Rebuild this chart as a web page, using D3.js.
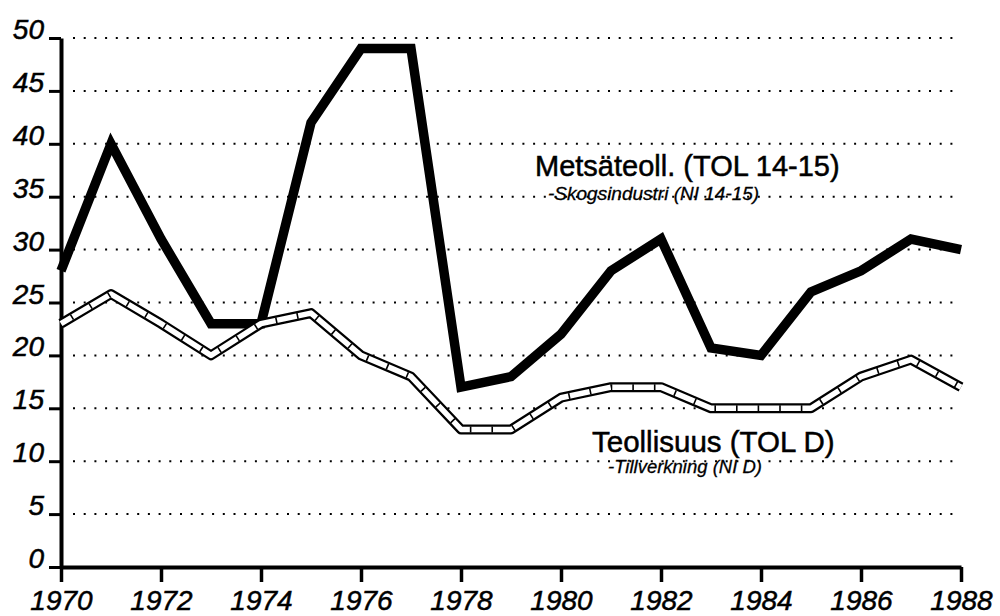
<!DOCTYPE html>
<html>
<head>
<meta charset="utf-8">
<script src="https://cdn.jsdelivr.net/npm/d3@7"></script>
<style>
  body { margin: 0; background: #fff; }
  svg { display: block; font-family: "Liberation Sans", Arial, Helvetica, sans-serif; }
  text { stroke: #000; stroke-width: 0.5px; }
</style>
</head>
<body>
<svg width="1000" height="616"></svg>
<script>
let years = d3.range(1970, 1989)
let metsa = [28, 40, 31, 23, 23, 42, 49, 49, 17, 18, 22, 28, 31, 20.7, 20, 26, 28, 31, 30]
let teoll = [23, 25.8, 23, 20, 23, 24, 20, 18, 13, 13, 16, 17, 17, 15, 15, 15, 18, 19.6, 17]
let yTicks = [0, 5, 10, 15, 20, 25, 30, 35, 40, 45, 50]
let xTicks = [1970, 1972, 1974, 1976, 1978, 1980, 1982, 1984, 1986, 1988]
let metsaName = ['Metsäteoll. (TOL 14-15)', '-Skogsindustri (NI 14-15)']
let teollName = ['Teollisuus (TOL D)', '-Tillverkning (NI D)']

let svg = d3.select('svg')

let x = d3.scaleLinear().domain([1970, 1988]).range([61, 961])
let y = d3.scaleLinear().domain([0, 50]).range([567, 38])

// dotted grid
svg.append('g')
   .selectAll('line')
   .data(yTicks.filter(d => d > 0))
   .enter()
   .append('line')
   .attr('x1', 73)
   .attr('x2', x(1988))
   .attr('y1', d => y(d))
   .attr('y2', d => y(d))
   .attr('stroke', '#000')
   .attr('stroke-width', 2)
   .attr('stroke-dasharray', '2,8.7')

// axes
let yAxis = d3.axisLeft(y).tickValues(yTicks).tickSize(12).tickSizeOuter(0).tickPadding(6)
let xAxis = d3.axisBottom(x).tickValues(xTicks).tickSize(15).tickSizeOuter(0).tickFormat(d3.format('d'))

let gy = svg.append('g').attr('transform', 'translate(61,0)').call(yAxis)
let gx = svg.append('g').attr('transform', 'translate(0,567)').call(xAxis)

gy.attr('font-family', null).attr('font-size', null)
gx.attr('font-family', null).attr('font-size', null)

gy.select('.domain').attr('stroke-width', 4)
gx.select('.domain').attr('stroke-width', 4)
gy.selectAll('.tick line').attr('stroke-width', 3)
gx.selectAll('.tick line').attr('stroke-width', 3.5)

gy.selectAll('.tick text')
  .attr('dy', '0.02em')
  .attr('x', -17)
  .style('font-size', '28px')
  .style('font-style', 'italic')
  .attr('fill', '#000')

gx.selectAll('.tick text')
  .attr('y', 43)
  .attr('dy', 0)
  .style('font-size', '28px')
  .style('font-style', 'italic')
  .attr('fill', '#000')

// lines
let line = (vals) => d3.line()
                       .x((d, i) => x(years[i]))
                       .y(d => y(d))(vals)

svg.append('path')
   .attr('d', line(metsa))
   .attr('fill', 'none')
   .attr('stroke', '#000')
   .attr('stroke-width', 9.5)
   .attr('stroke-linejoin', 'miter')
   .attr('stroke-miterlimit', 4)

svg.append('path')
   .attr('d', line(teoll))
   .attr('fill', 'none')
   .attr('stroke', '#000')
   .attr('stroke-width', 10)
   .attr('stroke-linejoin', 'round')

svg.append('path')
   .attr('d', line(teoll))
   .attr('fill', 'none')
   .attr('stroke', '#fff')
   .attr('stroke-width', 5.5)
   .attr('stroke-linejoin', 'round')

svg.append('path')
   .attr('d', line(teoll))
   .attr('fill', 'none')
   .attr('stroke', '#000')
   .attr('stroke-width', 6)
   .attr('stroke-dasharray', '1.6,20')
   .attr('stroke-dashoffset', -12)

// series labels
svg.append('text')
   .attr('x', 535).attr('y', 176)
   .style('font-size', '29px')
   .text(metsaName[0])
svg.append('text')
   .attr('x', 548).attr('y', 200)
   .style('font-size', '19px')
   .style('font-style', 'italic')
   .style('stroke-width', '0.3px')
   .text(metsaName[1])

svg.append('text')
   .attr('x', 592).attr('y', 452)
   .style('font-size', '29.5px')
   .text(teollName[0])
svg.append('text')
   .attr('x', 608).attr('y', 473)
   .style('font-size', '18.5px')
   .style('font-style', 'italic')
   .style('stroke-width', '0.3px')
   .text(teollName[1])
</script>
</body>
</html>
